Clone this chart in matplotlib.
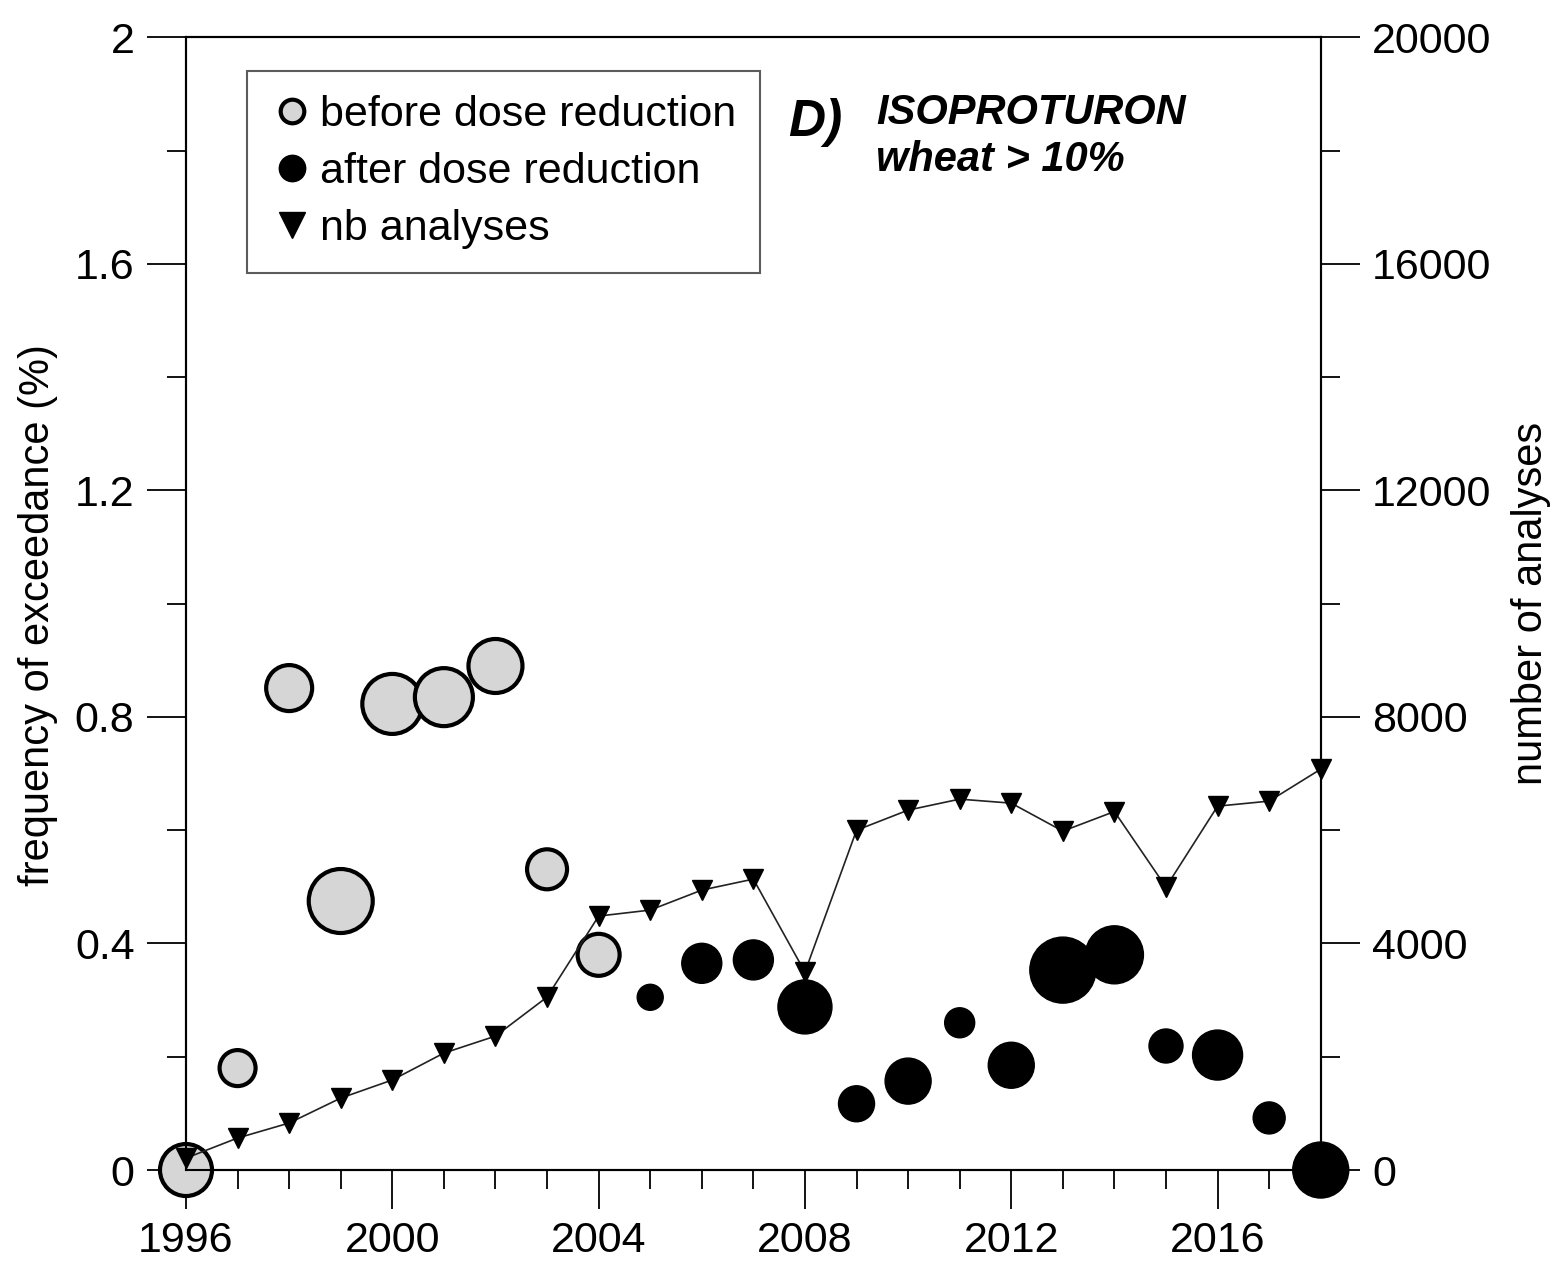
import matplotlib
matplotlib.use("Agg")
import matplotlib.pyplot as plt
from matplotlib.ticker import MultipleLocator
from matplotlib.lines import Line2D

plt.rcParams['font.family'] = ['Liberation Sans', 'DejaVu Sans']

# before dose reduction (1996-2004)
years_before = [1996, 1997, 1998, 1999, 2000, 2001, 2002, 2003, 2004]
freq_before = [0.0, 0.18, 0.851, 0.475, 0.823, 0.835, 0.89, 0.531, 0.38]
bubble_before = [26, 18, 23, 32, 30, 29, 27, 20, 21]

# after dose reduction (2005-2018)
years_after = [2005, 2006, 2007, 2008, 2009, 2010, 2011, 2012, 2013, 2014,
               2015, 2016, 2017, 2018]
freq_after = [0.305, 0.365, 0.371, 0.288, 0.117, 0.157, 0.26, 0.185, 0.353,
              0.38, 0.219, 0.203, 0.092, 0.0]
bubble_after = [13, 20, 20, 27, 18, 23, 15, 23, 33, 29, 17, 25, 16, 28]

# number of analyses
years_nb = list(range(1996, 2019))
nb_analyses = [210, 565, 830, 1270, 1590, 2065, 2365, 3054, 4484, 4590, 4943,
               5137, 3495, 6000, 6355, 6549, 6478, 5984, 6330, 4996, 6425,
               6514, 7078]

DPI = 100
PX2PT = 72.0 / DPI


def sizes(radii):
    return [(2 * r * PX2PT) ** 2 for r in radii]


fig = plt.figure(figsize=(15.63, 12.79), dpi=DPI)
ax = fig.add_axes([0.119, 0.0852, 0.726, 0.8856])
ax2 = ax.twinx()

ax.scatter(years_before, freq_before, s=sizes(bubble_before), facecolor='#d6d6d6',
           edgecolor='black', linewidth=3, zorder=3, clip_on=False)
ax.scatter(years_after, freq_after, s=sizes(bubble_after), facecolor='black',
           edgecolor='black', linewidth=1, zorder=3, clip_on=False)

ax2.plot(years_nb, nb_analyses, color='#222222', linewidth=1.2, marker='v',
         markersize=14, markerfacecolor='black', markeredgecolor='black',
         zorder=4, clip_on=False)

ax.set_xlim(1996, 2018)
ax.set_ylim(0, 2)
ax2.set_ylim(0, 20000)

ax.xaxis.set_major_locator(MultipleLocator(4))
ax.xaxis.set_minor_locator(MultipleLocator(1))
ax.set_yticks([0, 0.4, 0.8, 1.2, 1.6, 2])
ax.set_yticklabels(['0', '0.4', '0.8', '1.2', '1.6', '2'])
ax.yaxis.set_minor_locator(MultipleLocator(0.2))
ax2.yaxis.set_major_locator(MultipleLocator(4000))
ax2.yaxis.set_minor_locator(MultipleLocator(2000))

for a in (ax, ax2):
    for sp in a.spines.values():
        sp.set_linewidth(1.5)
    a.tick_params(which='major', direction='out', length=28, width=1.3,
                  labelsize=31, pad=9)
    a.tick_params(which='minor', direction='out', length=14, width=1.3)

ax.set_ylabel('frequency of exceedance (%)', fontsize=30, va='center')
ax.yaxis.set_label_coords(-0.130, 0.49)
ax2.set_ylabel('number of analyses', fontsize=30, labelpad=14)

handles = [
    Line2D([], [], linestyle='none', marker='o', markersize=17,
           markerfacecolor='#d6d6d6', markeredgecolor='black', markeredgewidth=3),
    Line2D([], [], linestyle='none', marker='o', markersize=19,
           markerfacecolor='black', markeredgecolor='black'),
    Line2D([], [], linestyle='none', marker='v', markersize=19,
           markerfacecolor='black', markeredgecolor='black'),
]
labels = ['before dose reduction', 'after dose reduction', 'nb analyses']
leg = ax2.legend(handles, labels, loc='upper left', bbox_to_anchor=(0.0538, 0.9703),
                 fontsize=31, frameon=True, fancybox=False, edgecolor='#333333',
                 handletextpad=0.15, handlelength=1.0, borderpad=0.55,
                 labelspacing=0.4, borderaxespad=0)
leg.get_frame().set_linewidth(1.5)

ax2.text(0.531, 0.925, 'D)', transform=ax2.transAxes, fontsize=37,
         fontweight='bold', fontstyle='italic', va='center', ha='left')
ax2.text(0.608, 0.933, 'ISOPROTURON', transform=ax2.transAxes, fontsize=30,
         fontweight='bold', fontstyle='italic', va='center', ha='left')
ax2.text(0.608, 0.892, 'wheat > 10%', transform=ax2.transAxes, fontsize=30,
         fontweight='bold', fontstyle='italic', va='center', ha='left')

fig.savefig('out.png', dpi=DPI)
